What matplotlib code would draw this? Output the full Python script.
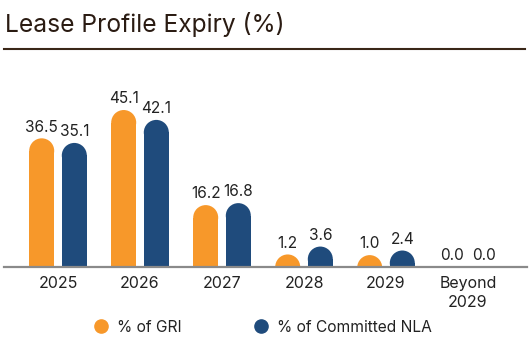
import matplotlib.pyplot as plt
from matplotlib.patches import Ellipse
from matplotlib.lines import Line2D
import numpy as np

plt.rcParams['font.family'] = ['Inter', 'DejaVu Sans']

years = ['2025', '2026', '2027', '2028', '2029', 'Beyond\n2029']
gri = [36.5, 45.1, 16.2, 1.2, 1.0, 0.0]
nla = [35.1, 42.1, 16.8, 3.6, 2.4, 0.0]

orange = '#F7982A'
navy = '#1F4B7C'
text_col = '#222222'

W, H = 530, 340
fig = plt.figure(figsize=(W / 100, H / 100), dpi=100)

# axes: baseline at 267px from top, one unit per year group (82px)
base_px = 267
ax = fig.add_axes([0, (H - base_px) / H, 1, (base_px - 60) / H])
px_per_unit = 3.29
ax.set_ylim(0, (base_px - 60) / px_per_unit)
group_px = 82
first_px = 58
ax.set_xlim(-first_px / group_px, (W - first_px) / group_px)
for s in ax.spines.values():
    s.set_visible(False)
ax.set_yticks([])

bar_w = 25 / group_px
offset = 16.3 / group_px
cap = 8.6 / px_per_unit          # extra height taken by the rounded top
ry = 12.5 / px_per_unit          # vertical radius of the rounded top

x = np.arange(len(years))


def rounded_bars(xs, vals, color):
    for xi, v in zip(xs, vals):
        if v <= 0:
            top = 0
        else:
            top = v + cap
            body = max(top - ry, 0)
            ax.bar(xi, body, width=bar_w, color=color, linewidth=0)
            ax.add_patch(Ellipse((xi, top - ry), bar_w, 2 * ry, color=color, lw=0))
        ax.annotate(f'{v:.1f}', (xi, top), xytext=(0, 4.8), textcoords='offset points',
                    ha='center', va='baseline', fontsize=11.1, color=text_col)


rounded_bars(x - offset, gri, orange)
rounded_bars(x + offset, nla, navy)

ax.axhline(0, xmin=4 / W, xmax=527 / W, color='#8a8a8a', lw=1.6, clip_on=False)

ax.set_xticks(x)
ax.set_xticklabels(years, fontsize=11.5, color=text_col, linespacing=1.35)
ax.tick_params(axis='x', length=0, pad=6.5)

# title and rule
fig.text(5 / W, 1 - 32 / H, 'Lease Profile Expiry (%)', fontsize=17.7, color='#2a1b12',
         va='baseline', ha='left')
fig.add_artist(Line2D([4 / W, 525 / W], [1 - 49 / H, 1 - 49 / H], color='#3a2718', lw=1.5))

handles = [Line2D([], [], marker='o', ls='none', color=orange, markersize=9.5),
           Line2D([], [], marker='o', ls='none', color=navy, markersize=9.5)]
fig.legend(handles, ['% of GRI', '% of Committed NLA'], loc='center left',
           bbox_to_anchor=(93 / W, 1 - 327 / H), ncol=2, frameon=False,
           fontsize=11.2, handlelength=1.0, handletextpad=0.55, columnspacing=4.6,
           borderpad=0, borderaxespad=0, labelcolor=text_col)

fig.savefig('out.png', dpi=100)
